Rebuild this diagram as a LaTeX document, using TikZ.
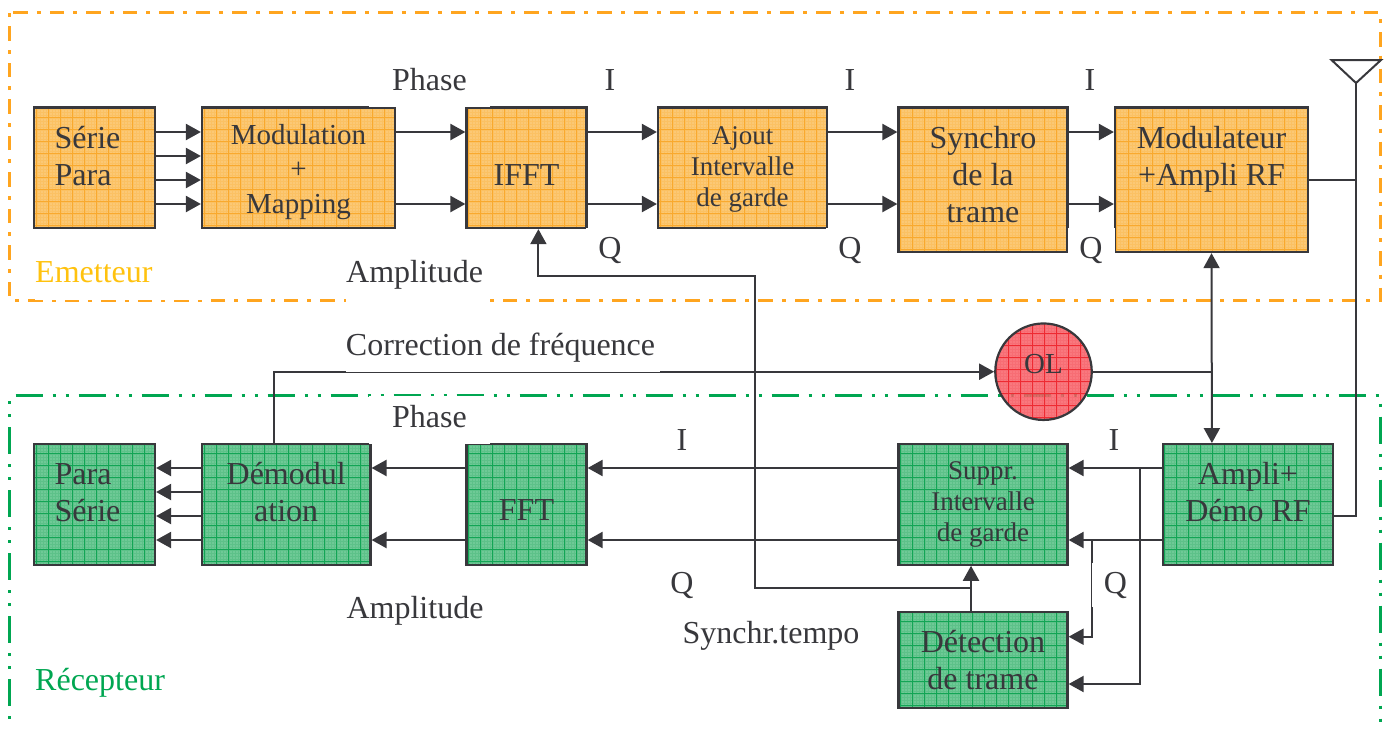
\documentclass[tikz,border=0pt]{standalone}
\usepackage{fontspec}
\setmainfont{Liberation Serif}
\usepackage{xcolor}
\usetikzlibrary{arrows.meta,patterns.meta}

\definecolor{inkdark}{HTML}{38383C}
\definecolor{frameorange}{HTML}{FFA51F}
\definecolor{framegreen}{HTML}{00A651}
\definecolor{emetyellow}{HTML}{FFC20E}
\definecolor{orangefill}{HTML}{FBC163}
\definecolor{orangedots}{HTML}{FFE2B4}
\definecolor{orangegrid}{HTML}{F9A92E}
\definecolor{greenfill}{HTML}{5DC189}
\definecolor{greendots}{HTML}{AAE4C2}
\definecolor{greengrid}{HTML}{12A555}
\definecolor{redfill}{HTML}{F6545C}
\definecolor{reddots}{HTML}{FFA4A8}
\definecolor{redgrid}{HTML}{EE2A32}

\tikzset{
  gridbox/.style n args={3}{
    preaction={fill=#1},
    preaction={pattern={Dots[distance=3pt,radius=.7pt]},pattern color=#3},
    preaction={pattern={Lines[angle=0,distance=12pt,line width=.7pt]},pattern color=#2},
    preaction={pattern={Lines[angle=90,distance=12pt,line width=.7pt]},pattern color=#2}},
  txbox/.style={draw=inkdark,line width=2.2pt,inner sep=0pt,gridbox={orangefill}{orangegrid}{orangedots}},
  rxbox/.style={draw=inkdark,line width=2.2pt,inner sep=0pt,gridbox={greenfill}{greengrid}{greendots}},
  bigtext/.style={text=inkdark,align=center,font=\fontsize{32}{37}\selectfont},
  midtext/.style={text=inkdark,align=center,font=\fontsize{29}{34.5}\selectfont},
  smalltext/.style={text=inkdark,align=center,font=\fontsize{27}{31}\selectfont},
  maskedtext/.style={bigtext,fill=white,inner sep=0pt},
  flow/.style={draw=inkdark,line width=2.2pt,-{Triangle[length=15pt,width=16pt]}},
  thinflow/.style={draw=inkdark,line width=2pt,-{Triangle[length=15pt,width=16pt]}},
  wire/.style={draw=inkdark,line width=2pt}
}

\begin{document}
\begin{tikzpicture}[x=1pt,y=-1pt]
  \useasboundingbox (0,0) rectangle (1388,729);

  % frames ---------------------------------------------------------------------
  \draw[frameorange,line width=3pt,dash pattern=on 14.5pt off 9pt on 4pt off 9pt]
        (13.4,12.3) -- (1380.6,12.3) -- (1380.6,300) -- (9.8,300) -- (9.8,12.3);
  \draw[framegreen,line width=3pt,dash pattern=on 27pt off 10pt on 3pt off 10pt on 3pt off 10pt]
        (15.6,395.7) -- (1380.6,395.7) -- (1380.6,729);
  \draw[framegreen,line width=3pt,dash pattern=on 27pt off 10pt on 3pt off 10pt on 3pt off 10pt,
        dash phase=31.6pt]
        (9.8,396) -- (9.8,729);

  %----------------------------------------------------------------------------%
  %  emetteur  -----------------------------------------------------------------%
  \node[txbox,minimum width=121pt,minimum height=120.5pt,
        label={[bigtext,align=left,xshift=-7pt,yshift=12pt]center:Série\\Para}]
        (serie) at (94.5,167.8) {};
  \node[txbox,minimum width=193pt,minimum height=120.5pt,
        label={[midtext,yshift=-4pt]center:Modulation\\+\\Mapping}]
        (modu) at (298.5,167.8) {};
  \node[txbox,minimum width=120pt,minimum height=120.5pt,
        label={[bigtext,yshift=-7pt]center:IFFT}]
        (ifft) at (526.5,167.8) {};
  \node[txbox,minimum width=169pt,minimum height=120.5pt,
        label={[smalltext,yshift=-1.5pt]center:Ajout\\Intervalle\\de garde}]
        (ajout) at (742.5,167.8) {};
  \node[txbox,minimum width=169pt,minimum height=144.5pt,
        label={[bigtext,yshift=5pt]center:Synchro\\de la\\trame}]
        (synchro) at (983,179.8) {};
  \node[txbox,minimum width=193pt,minimum height=144.5pt,
        label={[bigtext,yshift=21pt]center:Modulateur\\+Ampli RF}]
        (modrf) at (1211.5,179.8) {};

  %----------------------------------------------------------------------------%
  %  recepteur  ----------------------------------------------------------------%
  \node[rxbox,minimum width=121pt,minimum height=120.5pt,
        label={[bigtext,align=left,xshift=-7pt,yshift=12pt]center:Para\\Série}]
        (para) at (94.5,504.4) {};
  \node[rxbox,minimum width=168.5pt,minimum height=120.5pt,
        label={[bigtext,yshift=12pt]center:Démodul\\ation}]
        (demod) at (286.2,504.4) {};
  \node[rxbox,minimum width=120pt,minimum height=120.5pt,
        label={[bigtext,yshift=-6pt]center:FFT}]
        (fft) at (526.5,504.4) {};
  \node[rxbox,minimum width=169pt,minimum height=120.5pt,smalltext] (suppr) at (983,504.4)
        {Suppr.\\Intervalle\\de garde};
  \node[rxbox,minimum width=170pt,minimum height=120.5pt,
        label={[bigtext,yshift=12pt]center:Ampli+\\Démo RF}]
        (amplirf) at (1248,504.4) {};
  \node[rxbox,minimum width=169pt,minimum height=96pt,bigtext] (detect) at (983,660)
        {Détection\\de trame};

  % oscillateur
  \node[circle,draw=inkdark,line width=2.2pt,minimum size=96.5pt,inner sep=0pt,
        fill opacity=.85,gridbox={redfill}{redgrid}{reddots},
        label={[midtext,yshift=8pt]center:OL}]
        (ol) at (1043.5,371.7) {};

  %----------------------------------------------------------------------------%
  %  liaisons  -----------------------------------------------------------------%
  \foreach \ypos in {132,156,180,204}
    \draw[flow] (serie.east |- 0,\ypos) -- (modu.west |- 0,\ypos);
  \foreach \ypos in {132,204} {
    \draw[flow] (modu.east |- 0,\ypos) -- (ifft.west |- 0,\ypos);
    \draw[flow] (ifft.east |- 0,\ypos) -- (ajout.west |- 0,\ypos);
    \draw[flow] (ajout.east |- 0,\ypos) -- (synchro.west |- 0,\ypos);
    \draw[flow] (synchro.east |- 0,\ypos) -- (modrf.west |- 0,\ypos);
  }
  \foreach \ypos in {468,492,516,540}
    \draw[flow] (demod.west |- 0,\ypos) -- (para.east |- 0,\ypos);
  \foreach \ypos in {468,540} {
    \draw[flow] (fft.west |- 0,\ypos) -- (demod.east |- 0,\ypos);
    \draw[flow] (suppr.west |- 0,\ypos) -- (fft.east |- 0,\ypos);
    \draw[flow] (amplirf.west |- 0,\ypos) -- (suppr.east |- 0,\ypos);
  }

  % vers la trame
  \draw[thinflow] (1091.8,540) -- (1091.8,636.7) -- (detect.east |- 0,636.7);
  \draw[thinflow] (1139.5,468) -- (1139.5,684) -- (detect.east |- 0,684);

  % synchro temporelle
  \coordinate (synctap) at (971,588);
  \draw[thinflow] (971,0 |- detect.north) -- (971,0 |- suppr.south);
  \draw[thinflow] (synctap) -- (755,588) -- (755,276) -- (538.4,276) -- (538.4,0 |- ifft.south);

  % correction de frequence et OL
  \draw[thinflow] (273.7,0 |- demod.north) -- (273.7,371.7) -- (ol.west);
  \coordinate (oltap) at (1211.9,371.7);
  \draw[wire] (ol.east) -- (oltap);
  \draw[thinflow,{Triangle[length=15pt,width=16pt]}-{Triangle[length=15pt,width=16pt]}]
        (modrf.south) -- (oltap |- amplirf.north);

  % antenne
  \coordinate (antenna) at (1356,83);
  \draw[wire] (1331.5,60) -- (1381,60) -- (antenna) -- cycle;
  \draw[wire] (antenna) -- (1356,516) -- (amplirf.east |- 0,516);
  \draw[wire] (modrf.east |- 0,180) -- (1356,180);

  %----------------------------------------------------------------------------%
  %  textes  -------------------------------------------------------------------%
  \node[maskedtext,minimum width=121pt,minimum height=47pt,text depth=8pt] (phasetx) at (429.5,83.5) {Phase};
  \node[maskedtext,minimum width=121pt,minimum height=48pt,text depth=8pt] (phaserx) at (429.5,420) {Phase};
  \node[maskedtext,anchor=west,text width=144pt,align=left,minimum height=54pt,text depth=9.5pt] (amptx) at (346,276) {Amplitude};
  \node[bigtext] (amprx) at (415,611) {Amplitude};
  \node[maskedtext,minimum width=314pt,minimum height=44pt,text depth=11pt] (corr) at (503,350.2)
        {Correction de fréquence\hspace*{5pt}};

  \node[bigtext] (itxa) at (610,80) {I};
  \node[bigtext] (itxb) at (850,80) {I};
  \node[bigtext] (itxc) at (1090,80) {I};
  \node[maskedtext,minimum width=48pt,minimum height=44pt] (qtxa) at (610,250) {Q};
  \node[maskedtext,minimum width=48pt,minimum height=44pt] (qtxb) at (850,250) {Q};
  \node[maskedtext,minimum width=47pt,minimum height=44pt] (qtxc) at (1091,250) {Q};

  \node[bigtext] (irxa) at (682,440) {I};
  \node[bigtext] (irxb) at (1114,440) {I};
  \node[bigtext] (qrxa) at (682,585) {Q};
  \node[maskedtext,minimum width=47.5pt,minimum height=44pt] (qrxb) at (1115.5,585) {Q};
  \node[bigtext] (synctxt) at (771,636) {Synchr.tempo};

  \node[maskedtext,anchor=west,text width=170pt,minimum height=50pt,align=left,text depth=6pt,
        text=emetyellow] (emet) at (35,275) {Emetteur};
  \node[bigtext,anchor=west,inner sep=0pt,text=framegreen] (recep) at (35,683) {Récepteur};
\end{tikzpicture}
\end{document}
